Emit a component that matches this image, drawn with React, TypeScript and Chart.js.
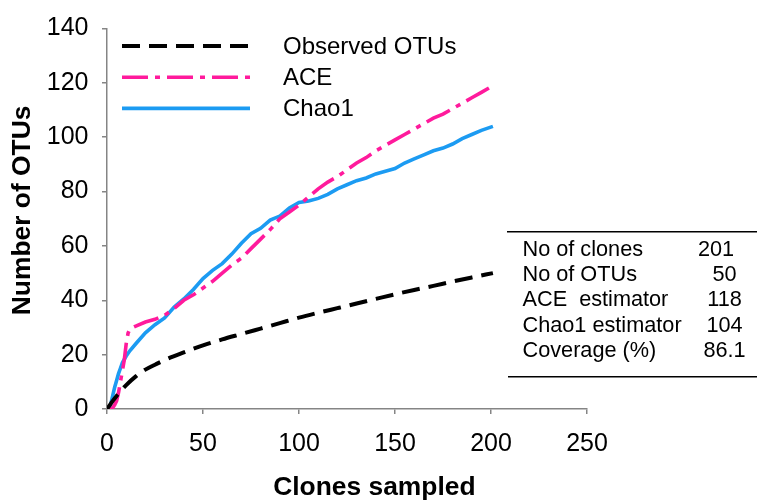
import React, { useEffect, useRef } from "react";
import { Chart, registerables } from "chart.js";

Chart.register(...registerables);

// ---------- data ----------
const obsX = [0, 1, 2, 3, 5, 7, 10, 15, 20, 25, 30, 40, 50, 60, 70, 80, 90, 100, 110, 120, 130, 140, 150, 160, 170, 180, 190, 201];
const obsY = [0, 1, 2, 3, 4.8, 6.5, 8.8, 12, 14.5, 16.3, 18, 20.8, 23.4, 25.6, 27.6, 29.6, 31.6, 33.6, 35.4, 37.1, 38.8, 40.5, 42.2, 43.8, 45.3, 46.9, 48.4, 50];

const chaoX = [1, 2, 3, 4, 5, 6, 7, 8, 10, 12, 15, 20, 25, 30, 35, 40, 45, 50, 55, 60, 65, 70, 75, 80, 85, 90, 95, 100, 105, 110, 115, 120, 125, 130, 135, 140, 145, 150, 155, 160, 165, 170, 175, 180, 185, 190, 195, 201];
const chaoY = [0, 2, 5, 8, 10.5, 13, 15, 17, 19.5, 21.5, 24, 28, 31, 33.5, 37.5, 40.5, 44, 48, 51, 53.5, 57, 61, 64.5, 66.5, 69.5, 71, 74, 76, 76.5, 77.5, 79, 81, 82.5, 84, 85, 86.5, 87.5, 88.5, 90.5, 92, 93.5, 95, 96, 97.5, 99.5, 101, 102.5, 104];

const aceX = [1, 2, 3, 4, 5, 6, 7, 8, 9, 10, 11, 12, 15, 20, 25, 30, 35, 40, 45, 50, 55, 60, 65, 70, 75, 80, 85, 90, 95, 100, 105, 110, 115, 120, 125, 130, 135, 140, 145, 150, 155, 160, 165, 170, 175, 180, 185, 190, 195, 201];
const aceY = [0, 0, 0.5, 1.5, 3, 6, 10, 14, 18, 24, 28, 29.5, 30.5, 32, 33, 34.5, 37, 40, 42, 44.5, 47, 50, 53, 55.5, 59, 62.5, 66, 70, 72.5, 75, 78, 81, 83.5, 85.5, 88, 90.5, 92.5, 95, 97, 99, 101, 103, 105, 107, 108.5, 110.5, 112.5, 114.5, 116.5, 119];

const seriesNames = ["Observed OTUs", "ACE", "Chao1"];
const xTicks = [0, 50, 100, 150, 200, 250];
const yTicks = [0, 20, 40, 60, 80, 100, 120, 140];

const tableLabels = ["No of clones", "No of OTUs", "ACE  estimator", "Chao1 estimator", "Coverage (%)"];
const tableValues = ["201", "50", "118", "104", "86.1"];

const xTitle = "Clones sampled";
const yTitle = "Number of OTUs";

// ---------- style ----------
const FONT = "'Liberation Sans', Arial, Helvetica, sans-serif";
const AXIS_GRAY = "#858585";
const PINK = "#FF1A9C";
const BLUE = "#1C9BF2";

const zip = (xs: number[], ys: number[]) => xs.map((x, i) => ({ x, y: ys[i] }));

const overlayPlugin = {
  id: "overlay",
  afterDraw(chart: any) {
    const ctx = chart.ctx;
    const area = chart.chartArea;
    ctx.save();

    // legend
    chart.data.datasets.forEach((ds: any, i: number) => {
      const y = 46 + i * 31.2;
      ctx.beginPath();
      ctx.setLineDash(ds.borderDash || []);
      ctx.lineWidth = ds.borderWidth;
      ctx.strokeStyle = ds.borderColor;
      ctx.lineCap = "butt";
      ctx.moveTo(122, y);
      ctx.lineTo(250, y);
      ctx.stroke();
      ctx.setLineDash([]);
      ctx.fillStyle = "#000";
      ctx.font = `24px ${FONT}`;
      ctx.textBaseline = "middle";
      ctx.textAlign = "left";
      ctx.fillText(ds.label, 283, y + 1);
    });

    // table
    ctx.strokeStyle = "#000";
    ctx.lineWidth = 1.6;
    ctx.beginPath();
    ctx.moveTo(507, 231.7);
    ctx.lineTo(757, 231.7);
    ctx.moveTo(508, 376.7);
    ctx.lineTo(757, 376.7);
    ctx.stroke();
    ctx.font = `21.7px ${FONT}`;
    ctx.textBaseline = "alphabetic";
    ctx.fillStyle = "#000";
    tableLabels.forEach((t, i) => {
      const y = 255.5 + i * 25.4;
      ctx.textAlign = "left";
      ctx.fillText(t, 522.5, y);
      ctx.textAlign = "center";
      ctx.fillText(tableValues[i], i === 0 ? 716 : 724.5, y);
    });

    // axis titles
    ctx.font = `bold 26.4px ${FONT}`;
    ctx.textAlign = "center";
    ctx.textBaseline = "alphabetic";
    ctx.fillText(xTitle, area.left + (area.right - area.left) * 0.557, 495);
    ctx.save();
    ctx.translate(30, area.top + (area.bottom - area.top) * 0.478);
    ctx.rotate(-Math.PI / 2);
    ctx.fillText(yTitle, 0, 0);
    ctx.restore();

    ctx.restore();
  },
};

export default function App() {
  const ref = useRef<HTMLCanvasElement | null>(null);

  useEffect(() => {
    if (!ref.current) return;
    const chart = new Chart(ref.current, {
      type: "line",
      data: {
        datasets: [
          {
            label: seriesNames[0],
            data: zip(obsX, obsY),
            borderColor: "#000000",
            borderWidth: 4,
            borderDash: [18, 9],
            pointRadius: 0,
            cubicInterpolationMode: "monotone",
            fill: false,
          },
          {
            label: seriesNames[1],
            data: zip(aceX, aceY),
            borderColor: PINK,
            borderWidth: 3.6,
            borderDash: [26, 7, 5, 7],
            pointRadius: 0,
            tension: 0,
            fill: false,
          },
          {
            label: seriesNames[2],
            data: zip(chaoX, chaoY),
            borderColor: BLUE,
            borderWidth: 3.6,
            pointRadius: 0,
            tension: 0,
            fill: false,
          },
        ],
      },
      options: {
        responsive: false,
        animation: false,
        layout: { padding: { top: 26, right: 170, left: 0, bottom: 0 } },
        plugins: {
          legend: { display: false },
          tooltip: { enabled: false },
          title: { display: false },
        },
        scales: {
          x: {
            type: "linear",
            min: 0,
            max: 250,
            afterBuildTicks: (s: any) => {
              s.ticks = xTicks.map((v) => ({ value: v }));
            },
            afterFit: (s: any) => {
              s.height = 92;
            },
            ticks: {
              font: { family: FONT, size: 25 },
              color: "#000",
              padding: 15,
              maxRotation: 0,
            },
            grid: {
              drawOnChartArea: false,
              drawTicks: true,
              tickLength: 5,
              color: AXIS_GRAY,
              lineWidth: 1.5,
            },
            border: { color: AXIS_GRAY, width: 1.5 },
          },
          y: {
            type: "linear",
            min: 0,
            max: 140,
            afterBuildTicks: (s: any) => {
              s.ticks = yTicks.map((v) => ({ value: v }));
            },
            afterFit: (s: any) => {
              s.width = 107;
            },
            ticks: {
              font: { family: FONT, size: 25 },
              color: "#000",
              padding: 13.5,
            },
            grid: {
              drawOnChartArea: false,
              drawTicks: true,
              tickLength: 5,
              color: AXIS_GRAY,
              lineWidth: 1.5,
            },
            border: { color: AXIS_GRAY, width: 1.5 },
          },
        },
      },
      plugins: [overlayPlugin],
    } as any);
    return () => chart.destroy();
  }, []);

  return (
    <div style={{ position: "fixed", left: 0, top: 0, width: 757, height: 501, background: "#fff" }}>
      <canvas ref={ref} width={757} height={501} style={{ display: "block" }} />
    </div>
  );
}
